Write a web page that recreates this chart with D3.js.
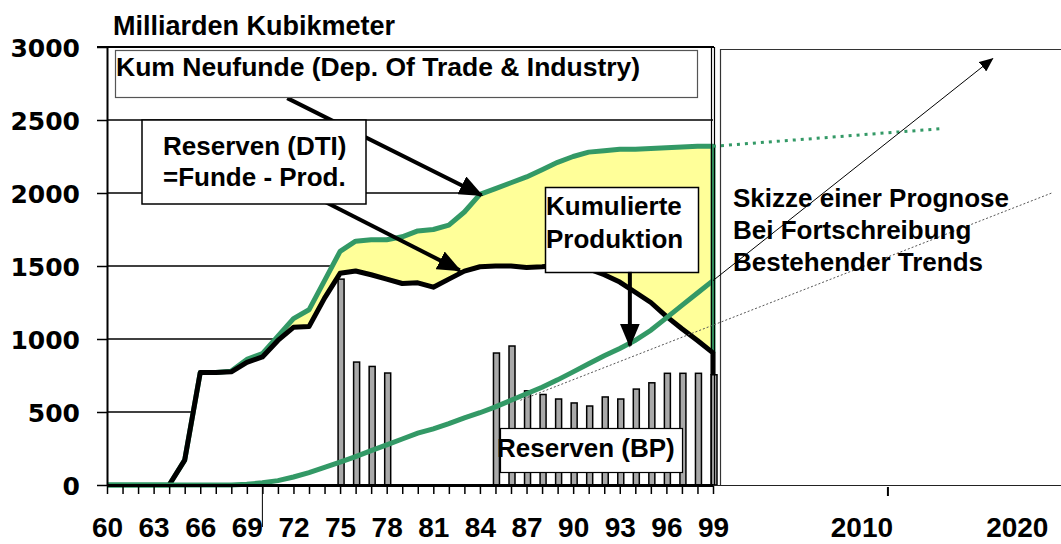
<!DOCTYPE html>
<html>
<head>
<meta charset="utf-8">
<script src="https://cdn.jsdelivr.net/npm/d3@7"></script>
<style>
  body { margin: 0; background: #fff; }
  svg { display: block; font-family: "Liberation Sans", Arial, sans-serif; font-weight: bold; }
</style>
</head>
<body>
<svg id="chart" width="1061" height="544"></svg>
<script>
// ---- data (Milliarden Kubikmeter, 1960-1999) ----
const years = d3.range(1960, 2000);

// Kum Neufunde (DTI)
const neufunde = [0, 0, 0, 0, 0, 170, 770, 770, 780, 860,
    900, 1020, 1140, 1200, 1400, 1600, 1670, 1680, 1680, 1700,
    1740, 1750, 1780, 1870, 1990, 2030, 2070, 2110, 2160, 2210,
    2250, 2280, 2290, 2300, 2300, 2305, 2310, 2315, 2320, 2320];

// Reserven (DTI) = Funde - Prod.
const reservenDTI = [0, 0, 0, 0, 0, 170, 770, 770, 775, 840,
    877, 990, 1080, 1085, 1280, 1450, 1466, 1440, 1410, 1380,
    1385, 1355, 1410, 1465, 1495, 1500, 1500, 1490, 1495, 1505,
    1495, 1480, 1440, 1390, 1320, 1250, 1155, 1070, 990, 905];

// Kumulierte Produktion
const kumProduktion = [0, 0, 0, 0, 0, 0, 0, 0, 0, 5,
    15, 30, 55, 85, 120, 157, 195, 235, 275, 315,
    355, 385, 420, 460, 495, 535, 580, 625, 670, 720,
    775, 830, 885, 935, 990, 1060, 1145, 1230, 1315, 1400];

// Reserven (BP)
const reservenBP = [0, 0, 0, 0, 0, 0, 0, 0, 0, 0,
    0, 0, 0, 0, 0, 1410, 842, 812, 767, 0,
    0, 0, 0, 0, 0, 904, 952, 645, 620, 589,
    562, 541, 603, 589, 657, 700, 765, 765, 765, 755];

const yTicks = [0, 500, 1000, 1500, 2000, 2500, 3000];
const gridValues = [500, 1000, 1500, 2000, 2500];
const xLabelYears = [1960, 1963, 1966, 1969, 1972, 1975, 1978, 1981, 1984, 1987, 1990, 1993, 1996, 1999];
const forecastTicks = [2010];
const forecastLabels = [2010, 2020];

// Skizze einer Prognose (year, value)
const trendNeufunde = [[1999, 2320], [2013.6, 2440]];
const trendArrow = [[1999, 1400], [2017, 2920]];
const trendProduktion = [[1986.6, 580], [2020.8, 2000]];

// annotation arrows (year, value)
const arrowNeufunde = [[1971.6, 2650], [1984.1, 1985]];
const arrowReserven = [[1972, 2050], [1982.7, 1470]];
const arrowProduktion = [[1993.65, 1460], [1993.65, 955]];

(function () {
    const mLeft = 107, mRight = 713, mTop = 47, mBottom = 485;
    const green = "#339966", yellow = "#ffff99", barGray = "#a9a9a9";

    const svg = d3.select("#chart");

    const x = d3.scaleLinear().domain([1960, 1999]).range([mLeft, mRight]);
    const y = d3.scaleLinear().domain([0, 3000]).range([mBottom, mTop]);

    const defs = svg.append("defs");
    defs.append("marker")
        .attr("id", "head")
        .attr("markerUnits", "userSpaceOnUse")
        .attr("viewBox", "0 0 24 20")
        .attr("markerWidth", 24).attr("markerHeight", 20)
        .attr("refX", 22).attr("refY", 10)
        .attr("orient", "auto")
        .append("path").attr("d", "M0,0 L24,10 L0,20 Z").attr("fill", "#000");
    defs.append("marker")
        .attr("id", "smallhead")
        .attr("markerUnits", "userSpaceOnUse")
        .attr("viewBox", "0 0 14 12")
        .attr("markerWidth", 14).attr("markerHeight", 12)
        .attr("refX", 13).attr("refY", 6)
        .attr("orient", "auto")
        .append("path").attr("d", "M0,0 L14,6 L0,12 Z").attr("fill", "#000");

    // grid lines
    svg.append("g")
        .selectAll("line")
        .data(gridValues)
        .enter().append("line")
        .attr("x1", mLeft).attr("x2", mRight)
        .attr("y1", d => y(d)).attr("y2", d => y(d))
        .attr("stroke", "#000").attr("stroke-width", 1.5);

    const series = years.map((yr, i) => ({ yr, nf: neufunde[i], res: reservenDTI[i], prod: kumProduktion[i], bp: reservenBP[i] }));

    // yellow area under Neufunde, white area under Reserven
    svg.append("path")
        .datum(series)
        .attr("fill", yellow)
        .attr("d", d3.area().x(d => x(d.yr)).y0(y(0)).y1(d => y(d.nf)));

    svg.append("path")
        .datum(series)
        .attr("fill", "#fff")
        .attr("d", d3.area().x(d => x(d.yr)).y0(y(0)).y1(d => y(d.res)));

    // bars Reserven (BP)
    svg.append("g")
        .selectAll("rect")
        .data(series.filter(d => d.bp > 0))
        .enter().append("rect")
        .attr("x", d => x(d.yr) - 2)
        .attr("width", 6)
        .attr("y", d => y(d.bp))
        .attr("height", d => y(0) - y(d.bp))
        .attr("fill", barGray)
        .attr("stroke", "#000")
        .attr("stroke-width", 1.5);

    const line = d3.line().x(d => x(d[0])).y(d => y(d[1]));
    const last = series[series.length - 1];

    // Kum Neufunde line with drop at the end
    svg.append("path")
        .attr("fill", "none").attr("stroke", green).attr("stroke-width", 5)
        .attr("stroke-linejoin", "round")
        .attr("d", line(series.map(d => [d.yr, d.nf]).concat([[last.yr, last.res]])));

    // Reserven (DTI) line, down to the last BP bar
    svg.append("path")
        .attr("fill", "none").attr("stroke", "#000").attr("stroke-width", 5)
        .attr("stroke-linejoin", "round")
        .attr("d", line(series.filter(d => d.yr >= 1964).map(d => [d.yr, d.res]).concat([[last.yr, last.bp]])));

    // Kumulierte Produktion
    svg.append("path")
        .attr("fill", "none").attr("stroke", green).attr("stroke-width", 5)
        .attr("d", line(series.map(d => [d.yr, d.prod])));

    // axes
    const yAxis = svg.append("g")
        .attr("transform", `translate(${mLeft},0)`)
        .call(d3.axisLeft(y).tickValues(yTicks).tickFormat(d3.format("d"))
            .tickSize(10).tickSizeOuter(0).tickPadding(17));
    yAxis.select(".domain").attr("stroke-width", 2);
    yAxis.selectAll(".tick line").attr("stroke-width", 1.5);
    yAxis.selectAll("text")
        .attr("font-family", "'DejaVu Sans', sans-serif")
        .attr("font-weight", "bold")
        .attr("font-size", 25)
        .attr("dy", "0.36em")
        .attr("fill", "#000");

    const xAxis = svg.append("g")
        .attr("transform", `translate(0,${mBottom})`)
        .call(d3.axisBottom(x).tickValues(years).tickSize(9).tickSizeOuter(0).tickPadding(43)
            .tickFormat(d => xLabelYears.includes(d) ? String(d).slice(2) : ""));
    xAxis.select(".domain").attr("stroke-width", 3);
    xAxis.selectAll(".tick line").attr("stroke-width", 1.5);
    xAxis.selectAll("text")
        .attr("font-family", "'Liberation Sans', Arial, sans-serif")
        .attr("font-weight", "bold")
        .attr("font-size", 28)
        .attr("dy", "0")
        .attr("fill", "#000");

    // thin marker line at 1970
    svg.append("line")
        .attr("x1", x(1970)).attr("x2", x(1970))
        .attr("y1", mBottom).attr("y2", mBottom + 42)
        .attr("stroke", "#000").attr("stroke-width", 1);

    // forecast part of the axis
    svg.append("line")
        .attr("x1", mRight).attr("x2", 1061)
        .attr("y1", mBottom + 0.5).attr("y2", mBottom + 0.5)
        .attr("stroke", "#222").attr("stroke-width", 1.2);
    svg.append("g")
        .selectAll("line")
        .data(forecastTicks)
        .enter().append("line")
        .attr("x1", d => x(d) + 4).attr("x2", d => x(d) + 4)
        .attr("y1", mBottom + 2).attr("y2", mBottom + 11)
        .attr("stroke", "#000").attr("stroke-width", 2);
    svg.append("g")
        .selectAll("text")
        .data(forecastLabels)
        .enter().append("text")
        .attr("x", d => x(d) - 22)
        .attr("y", 537)
        .attr("text-anchor", "middle")
        .attr("font-size", 28)
        .text(d => d);

    // frame of the left panel
    svg.append("line").attr("x1", mLeft - 10).attr("x2", mRight + 1).attr("y1", mTop).attr("y2", mTop)
        .attr("stroke", "#000").attr("stroke-width", 2);
    svg.append("line").attr("x1", mRight - 1.5).attr("x2", mRight - 1.5).attr("y1", mTop).attr("y2", mBottom)
        .attr("stroke", "#000").attr("stroke-width", 1.2);
    svg.append("line").attr("x1", mRight + 1.5).attr("x2", mRight + 1.5).attr("y1", mTop).attr("y2", mBottom)
        .attr("stroke", "#000").attr("stroke-width", 1.2);

    // frame of the forecast panel
    svg.append("path")
        .attr("d", `M720.5,${mBottom} V49.5 H1061`)
        .attr("fill", "none").attr("stroke", "#333").attr("stroke-width", 1.2);

    // Skizze einer Prognose
    svg.append("path")
        .attr("fill", "none").attr("stroke", green).attr("stroke-width", 3)
        .attr("stroke-dasharray", "3,5")
        .attr("d", line(trendNeufunde));
    svg.append("path")
        .attr("fill", "none").attr("stroke", "#555").attr("stroke-width", 1)
        .attr("stroke-dasharray", "2,2")
        .attr("d", line(trendProduktion));
    svg.append("path")
        .attr("fill", "none").attr("stroke", "#000").attr("stroke-width", 1)
        .attr("marker-end", "url(#smallhead)")
        .attr("d", line(trendArrow));

    svg.append("g")
        .selectAll("text")
        .data(["Skizze einer Prognose", "Bei Fortschreibung", "Bestehender Trends"])
        .enter().append("text")
        .attr("x", 733)
        .attr("y", (d, i) => 207 + i * 32)
        .attr("font-size", 26)
        .text(d => d);

    // title
    svg.append("text").attr("x", 113).attr("y", 35).attr("font-size", 27).text("Milliarden Kubikmeter");

    function arrow(pts) {
        svg.append("path")
            .attr("fill", "none").attr("stroke", "#000").attr("stroke-width", 4)
            .attr("marker-end", "url(#head)")
            .attr("d", line(pts));
    }
    // arrows behind the DTI box
    arrow(arrowNeufunde);
    arrow(arrowReserven);

    // text boxes
    function box(x0, y0, w, h, stroke, sw) {
        svg.append("rect")
            .attr("x", x0).attr("y", y0).attr("width", w).attr("height", h)
            .attr("fill", "#fff").attr("stroke", stroke).attr("stroke-width", sw);
    }
    box(115.5, 50.5, 582, 47, "#555", 1.2);
    svg.append("text").attr("x", 116).attr("y", 76).attr("font-size", 26.5)
        .text("Kum Neufunde (Dep. Of Trade & Industry)");

    box(142, 120, 224, 84, "#000", 1.5);
    svg.append("text").attr("x", 163).attr("y", 155).attr("font-size", 26).text("Reserven (DTI)");
    svg.append("text").attr("x", 163).attr("y", 186).attr("font-size", 26).text("=Funde - Prod.");

    box(545.5, 187.5, 153, 85, "#000", 1.5);
    svg.append("text").attr("x", 546).attr("y", 215).attr("font-size", 26).text("Kumulierte");
    svg.append("text").attr("x", 546).attr("y", 248).attr("font-size", 26).text("Produktion");
    arrow(arrowProduktion);

    box(500.5, 428.5, 182, 44, "#000", 1.2);
    svg.append("text").attr("x", 497).attr("y", 457).attr("font-size", 26).text("Reserven (BP)");
})();
</script>
</body>
</html>
